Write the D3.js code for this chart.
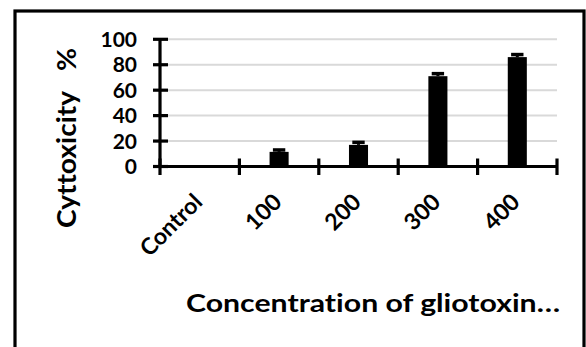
<!DOCTYPE html>
<html>
<head>
<meta charset="utf-8">
<script src="https://cdn.jsdelivr.net/npm/d3@7/dist/d3.min.js"></script>
<style>
  html, body { margin: 0; padding: 0; background: #fff; }
  svg { display: block; }
  text { font-family: Lato, "Open Sans", sans-serif; font-weight: bold; fill: #000; font-variant-ligatures: none; }
</style>
</head>
<body>
<svg id="chart" width="586" height="347"></svg>
<script>
const categories = ["Control", "100", "200", "300", "400"];
const values = [0, 11.5, 17, 71, 86];
const errors = [0, 1.5, 2, 2, 2];
const yTicks = [0, 20, 40, 60, 80, 100];
const yTitle = "Cyttoxicity   %";
const xTitle = "Concentration of gliotoxin\u2026";

const svg = d3.select("#chart");

// outer frame
svg.append("rect")
  .attr("x", 15).attr("y", 11)
  .attr("width", 569).attr("height", 360)
  .attr("fill", "none").attr("stroke", "#000").attr("stroke-width", 3.2);

const plot = { left: 160, right: 557, top: 39.3, bottom: 166.5 };

const x = d3.scaleBand().domain(categories).range([plot.left, plot.right]).padding(0);
const y = d3.scaleLinear().domain([0, 100]).range([plot.bottom, plot.top]);

// gridlines
svg.append("g").selectAll("line").data(yTicks.filter(d => d > 0)).join("line")
  .attr("x1", plot.left).attr("x2", plot.right)
  .attr("y1", d => y(d)).attr("y2", d => y(d))
  .attr("stroke", "#d9d9d9").attr("stroke-width", 2);

// bars
const barW = x.bandwidth() * 0.24;
svg.append("g").selectAll("rect").data(values).join("rect")
  .attr("x", (d, i) => x(categories[i]) + x.bandwidth() / 2 - barW / 2)
  .attr("y", d => y(d))
  .attr("width", barW)
  .attr("height", d => y(0) - y(d))
  .attr("fill", "#000");

// error bars
const capW = barW * 0.65;
const eg = svg.append("g");
values.forEach((v, i) => {
  if (v <= 0) return;
  const cx = x(categories[i]) + x.bandwidth() / 2;
  eg.append("line")
    .attr("x1", cx).attr("x2", cx)
    .attr("y1", y(v)).attr("y2", y(v + errors[i]))
    .attr("stroke", "#000").attr("stroke-width", 3);
  eg.append("line")
    .attr("x1", cx - capW / 2).attr("x2", cx + capW / 2)
    .attr("y1", y(v + errors[i])).attr("y2", y(v + errors[i]))
    .attr("stroke", "#000").attr("stroke-width", 3.5);
});

// y axis
const yAxis = svg.append("g");
yAxis.append("line")
  .attr("x1", plot.left).attr("x2", plot.left)
  .attr("y1", y(100)).attr("y2", y(0))
  .attr("stroke", "#000").attr("stroke-width", 3.2);
yAxis.selectAll("line.tick").data(yTicks).join("line").attr("class", "tick")
  .attr("x1", plot.left - 7).attr("x2", plot.left + 8)
  .attr("y1", d => y(d)).attr("y2", d => y(d))
  .attr("stroke", "#000").attr("stroke-width", 3.2);
yAxis.selectAll("text").data(yTicks).join("text")
  .attr("x", 137).attr("y", d => y(d))
  .attr("dy", "0.36em")
  .attr("text-anchor", "end")
  .attr("font-size", 21)
  .text(d => d);

// x axis
const xAxis = svg.append("g");
xAxis.append("line")
  .attr("x1", plot.left).attr("x2", plot.right)
  .attr("y1", y(0)).attr("y2", y(0))
  .attr("stroke", "#000").attr("stroke-width", 3.2);
const bounds = categories.map(c => x(c)).concat([plot.right]);
xAxis.selectAll("line.tick").data(bounds).join("line").attr("class", "tick")
  .attr("x1", d => d).attr("x2", d => d)
  .attr("y1", y(0) - 8).attr("y2", y(0) + 8.5)
  .attr("stroke", "#000").attr("stroke-width", 3.2);
xAxis.selectAll("text").data(categories).join("text")
  .attr("text-anchor", "end")
  .attr("font-size", 23)
  .attr("transform", d => `translate(${x(d) + x.bandwidth() / 2 + 4},${y(0) + 37}) rotate(-45)`)
  .text(d => d);

// axis titles
svg.append("text")
  .attr("transform", `translate(76,138) rotate(-90)`)
  .attr("text-anchor", "middle")
  .attr("font-size", 27)
  .attr("textLength", 180)
  .attr("lengthAdjust", "spacingAndGlyphs")
  .style("white-space", "pre")
  .text(yTitle);

svg.append("text")
  .attr("x", 186).attr("y", 312)
  .attr("text-anchor", "start")
  .attr("font-size", 25)
  .attr("textLength", 374)
  .attr("lengthAdjust", "spacingAndGlyphs")
  .text(xTitle);
</script>
</body>
</html>
